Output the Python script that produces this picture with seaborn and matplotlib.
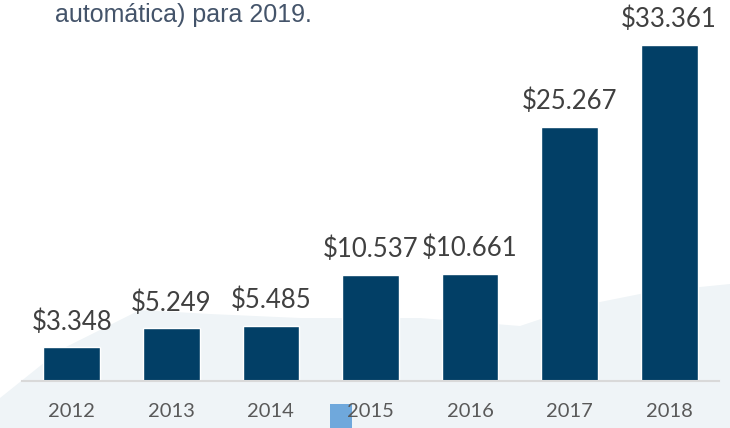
import matplotlib
matplotlib.use("Agg")
import matplotlib.pyplot as plt
from matplotlib.patches import Rectangle, Polygon
import seaborn as sns
import pandas as pd

years = ["2012", "2013", "2014", "2015", "2016", "2017", "2018"]
values = [3348, 5249, 5485, 10537, 10661, 25267, 33361]
value_labels = ["$3.348", "$5.249", "$5.485", "$10.537", "$10.661", "$25.267", "$33.361"]
header_text = "automática) para 2019."

sns.set_theme(style="white")
plt.rcParams["font.family"] = ["Lato", "DejaVu Sans"]

W, H = 730, 428
fig = plt.figure(figsize=(W / 100, H / 100), dpi=100)
fig.patch.set_facecolor("white")

# decorative background hills (figure pixel space)
bg = fig.add_axes([0, 0, 1, 1], zorder=0)
bg.set_xlim(0, W)
bg.set_ylim(H, 0)
bg.axis("off")
hill = [(0, 398), (60, 350), (140, 310), (210, 314), (300, 318), (420, 318),
        (520, 326), (580, 306), (650, 292), (730, 284), (730, 428), (0, 428)]
bg.add_patch(Polygon(hill, closed=True, facecolor="#eff4f7", edgecolor="none"))

df = pd.DataFrame({"year": years, "value": values})

ax = fig.add_axes([22 / W, 47 / H, 697 / W, 381 / H], zorder=1)
ax.patch.set_alpha(0)
sns.barplot(data=df, x="year", y="value", color="#023f66", saturation=1,
            width=0.57, ax=ax)
ax.set_xlim(-0.5, 6.5)
ax.set_ylim(0, 33361 * 381 / 336)
ax.set_xlabel("")
ax.set_ylabel("")
ax.set_yticks([])
for s in ["top", "right", "left"]:
    ax.spines[s].set_visible(False)
ax.spines["bottom"].set_color("#d9d9d9")
ax.spines["bottom"].set_linewidth(1.5)
ax.tick_params(axis="x", length=0, pad=16, labelsize=14.5, labelcolor="#595959")

for i, (v, lab) in enumerate(zip(values, value_labels)):
    ax.annotate(lab, (i, v), xytext=(0, 9), textcoords="offset points",
                ha="center", va="bottom", fontsize=18.5, color="#404040")

fig.text(55 / W, 1 - 22 / H, header_text, ha="left", va="baseline",
         fontsize=18, color="#44546a", family=["Liberation Sans", "DejaVu Sans"])

# small decorative square near the 2015 label
fig.patches.append(Rectangle((330 / W, 0), 22 / W, 24 / H, transform=fig.transFigure,
                             facecolor="#6fa8dc", edgecolor="none", zorder=0.5))

fig.savefig("out.png", dpi=100)
